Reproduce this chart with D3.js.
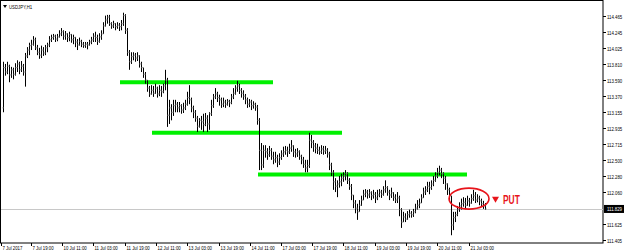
<!DOCTYPE html>
<html>
<head>
<meta charset="utf-8">
<script src="https://cdn.jsdelivr.net/npm/d3@7"></script>
<style>
  body { margin: 0; background: #fff; }
  svg { display: block; font-family: "Liberation Sans", Arial, sans-serif; }
</style>
</head>
<body>
<svg id="chart" width="625" height="252"></svg>
<script>
const SYMBOL = "USDJPY,H1"
const CURRENT_PRICE = 111.829

//H1 bars, open = previous close
const firstOpen = 113.21
const closes = [
  113.76,113.70,113.78,113.66,113.73,113.67,113.76,113.81,113.73,113.78,
  113.70,113.92,114.00,114.06,114.08,114.14,114.03,113.97,113.93,114.00,
  113.96,114.03,114.07,114.14,114.17,114.19,114.15,114.18,114.22,114.25,
  114.19,114.22,114.17,114.21,114.14,114.17,114.11,114.07,114.12,114.08,
  114.06,114.08,114.07,114.11,114.14,114.19,114.17,114.12,114.18,114.22,
  114.33,114.41,114.45,114.36,114.33,114.36,114.32,114.34,114.32,114.36,
  114.47,114.27,113.97,113.84,113.91,113.93,113.89,113.92,113.81,113.76,
  113.67,113.59,113.48,113.40,113.45,113.41,113.48,113.40,113.45,113.43,
  113.51,113.59,113.11,113.21,113.15,113.24,113.26,113.21,113.24,113.18,
  113.21,113.26,113.35,113.32,113.21,113.15,113.07,112.96,113.04,113.02,
  112.98,113.07,112.99,113.13,113.24,113.36,113.40,113.35,113.32,113.26,
  113.29,113.26,113.30,113.28,113.36,113.41,113.48,113.51,113.45,113.41,
  113.37,113.32,113.26,113.29,113.24,113.26,113.22,113.04,112.63,112.43,
  112.63,112.61,112.57,112.63,112.55,112.50,112.53,112.47,112.53,112.58,
  112.61,112.63,112.61,112.66,112.69,112.61,112.58,112.61,112.55,112.50,
  112.44,112.39,112.42,112.77,112.74,112.69,112.66,112.63,112.61,112.65,
  112.62,112.63,112.58,112.43,112.33,112.20,112.14,112.17,112.20,112.25,
  112.28,112.31,112.22,112.14,112.02,111.91,111.84,111.79,111.88,111.95,
  112.03,112.06,112.02,112.05,112.01,112.03,111.98,112.02,112.06,112.03,
  112.09,112.12,112.06,112.02,112.05,111.99,111.95,111.98,111.82,111.65,
  111.72,111.69,111.75,111.77,111.75,111.79,111.84,111.88,111.91,111.98,
  112.06,112.09,112.14,112.12,112.17,112.22,112.28,112.33,112.36,112.31,
  112.25,112.17,112.09,112.01,111.61,111.71,111.75,111.82,111.87,111.90,
  111.92,111.88,111.94,111.91,111.97,112.01,111.95,111.98,111.94,111.90,111.87,111.83
]
const highs = [
  113.84,113.81,113.84,113.80,113.77,113.76,113.82,113.86,113.84,113.85,
  113.81,113.96,114.04,114.10,114.14,114.19,114.17,114.07,114.03,114.06,
  114.04,114.07,114.10,114.19,114.21,114.22,114.21,114.22,114.27,114.30,
  114.27,114.26,114.23,114.25,114.22,114.21,114.18,114.15,114.17,114.14,
  114.11,114.11,114.11,114.14,114.18,114.23,114.25,114.21,114.23,114.27,
  114.38,114.47,114.48,114.48,114.38,114.40,114.37,114.38,114.37,114.41,
  114.51,114.49,114.30,114.00,113.97,113.97,113.96,113.97,113.93,113.84,
  113.76,113.70,113.59,113.51,113.52,113.51,113.54,113.50,113.52,113.51,
  113.54,113.73,113.62,113.32,113.26,113.32,113.32,113.29,113.29,113.26,
  113.28,113.32,113.43,113.52,113.35,113.24,113.18,113.10,113.07,113.10,
  113.13,113.14,113.11,113.15,113.32,113.40,113.48,113.43,113.39,113.35,
  113.35,113.32,113.33,113.32,113.40,113.48,113.52,113.58,113.54,113.48,
  113.45,113.40,113.35,113.33,113.32,113.30,113.28,113.25,113.07,112.73,
  112.70,112.70,112.66,112.69,112.66,112.61,112.61,112.57,112.59,112.63,
  112.68,112.69,112.68,112.72,112.77,112.70,112.65,112.66,112.63,112.57,
  112.54,112.50,112.50,112.87,112.84,112.77,112.73,112.72,112.68,112.70,
  112.69,112.69,112.66,112.61,112.46,112.36,112.25,112.22,112.28,112.31,
  112.33,112.36,112.33,112.25,112.17,112.02,111.95,111.90,111.95,112.01,
  112.09,112.10,112.09,112.10,112.07,112.09,112.06,112.09,112.10,112.09,
  112.14,112.22,112.14,112.09,112.12,112.06,112.03,112.06,112.01,111.84,
  111.79,111.77,111.80,111.82,111.80,111.83,111.90,111.95,111.97,112.03,
  112.12,112.14,112.20,112.20,112.22,112.28,112.33,112.39,112.42,112.39,
  112.33,112.28,112.18,112.12,112.01,111.79,111.79,111.87,111.92,111.97,
  111.99,111.98,112.01,111.98,112.03,112.09,112.06,112.03,112.01,111.97,111.94,111.91
]
const lows = [
  113.15,113.65,113.67,113.56,113.62,113.60,113.65,113.70,113.67,113.70,
  113.65,113.50,113.89,113.93,114.00,114.06,114.00,113.93,113.88,113.89,
  113.92,113.93,113.97,114.04,114.11,114.14,114.11,114.12,114.17,114.19,
  114.14,114.14,114.11,114.12,114.10,114.08,114.04,114.00,114.06,114.04,
  114.03,114.03,114.01,114.06,114.08,114.11,114.11,114.07,114.10,114.14,
  114.22,114.32,114.36,114.33,114.29,114.30,114.27,114.29,114.26,114.27,
  114.33,114.22,113.92,113.73,113.81,113.86,113.84,113.85,113.76,113.70,
  113.62,113.54,113.43,113.36,113.39,113.36,113.40,113.35,113.37,113.36,
  113.41,113.45,112.95,112.99,113.04,113.10,113.15,113.15,113.15,113.13,
  113.14,113.18,113.24,113.26,113.15,113.07,113.02,112.88,112.94,112.91,
  112.88,112.96,112.88,112.91,113.10,113.21,113.33,113.29,113.24,113.21,
  113.22,113.21,113.24,113.22,113.26,113.33,113.39,113.43,113.40,113.35,
  113.32,113.26,113.21,113.22,113.18,113.20,113.17,112.98,112.36,112.36,
  112.39,112.53,112.50,112.54,112.50,112.44,112.46,112.40,112.43,112.50,
  112.54,112.57,112.54,112.58,112.61,112.54,112.53,112.54,112.50,112.44,
  112.39,112.33,112.33,112.39,112.66,112.61,112.59,112.58,112.57,112.58,
  112.57,112.58,112.53,112.36,112.28,112.09,112.06,111.99,112.12,112.14,
  112.20,112.22,112.17,112.09,111.95,111.84,111.77,111.68,111.79,111.87,
  111.95,111.99,111.97,111.98,111.95,111.97,111.91,111.95,111.99,111.98,
  112.01,112.05,112.01,111.95,111.98,111.94,111.91,111.91,111.73,111.57,
  111.65,111.65,111.68,111.71,111.71,111.72,111.77,111.82,111.84,111.91,
  111.98,112.02,112.06,112.03,112.09,112.14,112.20,112.25,112.29,112.25,
  112.17,112.09,112.02,111.95,111.47,111.54,111.65,111.73,111.79,111.82,
  111.86,111.84,111.87,111.86,111.90,111.94,111.91,111.92,111.88,111.86,111.83,111.82
]

//Price axis labels (terminal steps are not round)
const priceLabels = ["114.465","114.245","114.025","113.810","113.590","113.370","113.155",
  "112.935","112.715","112.500","112.280","112.060","111.625","111.405"]

//Time axis labels and the bar they sit on
const timeLabels = ["7 Jul 2017","7 Jul 19:00","10 Jul 11:00","11 Jul 03:00","11 Jul 19:00",
  "12 Jul 11:00","13 Jul 03:00","13 Jul 19:00","14 Jul 11:00","17 Jul 03:00","17 Jul 19:00",
  "18 Jul 11:00","19 Jul 03:00","19 Jul 19:00","20 Jul 11:00","21 Jul 03:00"]
const timeLabelBars = [-1,14,29.5,45,61,76.5,92,108,123.5,139,154.5,170,186,201.5,217,233]

//Drawn levels: price, first bar, last bar
const levelPrices = [113.56, 112.87, 112.30]
const levelFrom = [58.5, 74.5, 127.5]
const levelTo = [135, 169.5, 232]

//Circled area + signal
const circleBar = 233
const circlePrice = 111.97
const signalText = "PUT"

const W = 625, H = 252
const plotRight = 603, plotBottom = 243
const NARROW = 0.72   //terminal font is narrower than Liberation Sans

var svg = d3.select("#chart")

var x = d3.scaleLinear().domain([0, closes.length - 1]).range([3, 485])
var y = d3.scaleLinear().domain([111.405, 114.465]).range([240, 16])

//small squeezed label, scaled with a transform so its box stays honest
function smallText(parent, tx, ty, str, color) {
  return parent.append("text")
    .attr("transform", `translate(${tx},${ty}) scale(${NARROW},1)`)
    .attr("font-size", 6).attr("fill", color || "#000")
    .text(str)
}

//frame
svg.append("rect")
  .attr("x", 0.5).attr("y", 0.5)
  .attr("width", plotRight - 0.5).attr("height", plotBottom - 0.5)
  .attr("fill", "none").attr("stroke", "#000").attr("stroke-width", 1)

//current price line
svg.append("line")
  .attr("x1", 1).attr("x2", plotRight)
  .attr("y1", Math.round(y(CURRENT_PRICE)) + 0.5).attr("y2", Math.round(y(CURRENT_PRICE)) + 0.5)
  .attr("stroke", "#c8c8c8").attr("stroke-width", 1)

//support/resistance lines
svg.append("g").selectAll("line")
  .data(levelPrices)
  .join("line")
    .attr("x1", (d, i) => x(levelFrom[i]))
    .attr("x2", (d, i) => x(levelTo[i]))
    .attr("y1", d => y(d)).attr("y2", d => y(d))
    .attr("stroke", "#00f000").attr("stroke-width", 4)

//bars
var bars = svg.append("g")
closes.forEach((c, i) => {
  var o = i ? closes[i - 1] : firstOpen
  var hi = Math.max(highs[i], o, c)
  var lo = Math.min(lows[i], o, c)
  var xi = Math.round(x(i)) + 0.5
  bars.append("line")
    .attr("x1", xi).attr("x2", xi)
    .attr("y1", y(hi)).attr("y2", y(lo))
    .attr("stroke", "#000").attr("stroke-width", 1)
  bars.append("line")
    .attr("x1", xi - 1).attr("x2", xi)
    .attr("y1", y(o)).attr("y2", y(o))
    .attr("stroke", "#888").attr("stroke-width", 1)
  bars.append("line")
    .attr("x1", xi).attr("x2", xi + 1)
    .attr("y1", y(c)).attr("y2", y(c))
    .attr("stroke", "#888").attr("stroke-width", 1)
})

//ellipse + signal
svg.append("ellipse")
  .attr("cx", x(circleBar)).attr("cy", y(circlePrice))
  .attr("rx", 20).attr("ry", 10.5)
  .attr("fill", "none").attr("stroke", "#e8141b").attr("stroke-width", 1.6)

var sigY = y(circlePrice) + 1
svg.append("path")
  .attr("d", `M492,${sigY - 3}L499,${sigY - 3}L495.5,${sigY + 3}Z`)
  .attr("fill", "#e8141b")
svg.append("text")
  .attr("transform", `translate(503,${sigY + 4.5}) scale(0.7,1)`)
  .attr("font-size", 12).attr("font-weight", "bold")
  .attr("fill", "#e8141b")
  .text(signalText)

//symbol title
svg.append("path")
  .attr("d", "M3,5L7,5L5,8Z").attr("fill", "#000")
smallText(svg, 9, 8.5, SYMBOL)

//price axis
var pAxis = svg.append("g")
priceLabels.forEach(p => {
  var py = Math.round(y(+p)) + 0.5
  pAxis.append("line")
    .attr("x1", plotRight).attr("x2", plotRight + 3)
    .attr("y1", py).attr("y2", py)
    .attr("stroke", "#000")
  smallText(pAxis, plotRight + 4, py + 2, p)
})

//current price tag
var cy = y(CURRENT_PRICE)
svg.append("rect")
  .attr("x", plotRight + 1).attr("y", cy - 4)
  .attr("width", W - plotRight - 2).attr("height", 8)
  .attr("fill", "#000")
smallText(svg, plotRight + 4, cy + 2, CURRENT_PRICE.toFixed(3), "#fff")

//time axis
var tAxis = svg.append("g")
timeLabels.forEach((t, i) => {
  var tx = Math.max(1, Math.round(x(timeLabelBars[i]))) + 0.5
  tAxis.append("line")
    .attr("x1", tx).attr("x2", tx)
    .attr("y1", plotBottom).attr("y2", plotBottom + 3)
    .attr("stroke", "#000")
  smallText(tAxis, tx + 1, 250, t)
})
</script>
</body>
</html>
